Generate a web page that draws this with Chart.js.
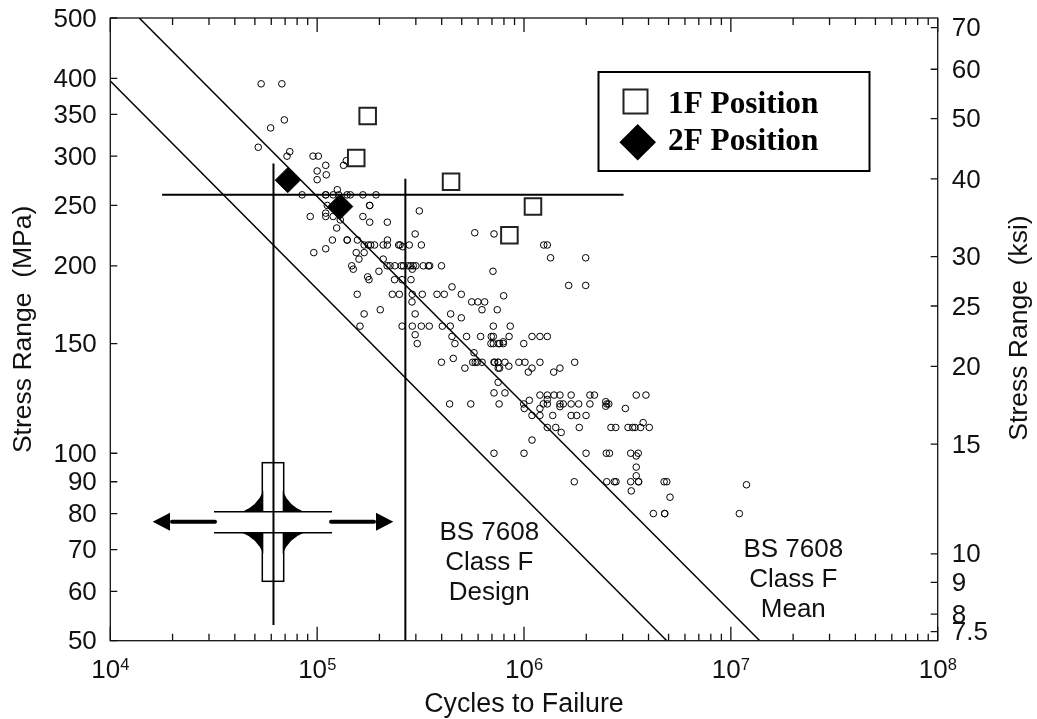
<!DOCTYPE html>
<html>
<head>
<meta charset="utf-8">
<title>Stress Range vs Cycles to Failure</title>
<script src="https://cdn.jsdelivr.net/npm/chart.js@4/dist/chart.umd.min.js"></script>
<style>
  html, body { margin: 0; padding: 0; background: #fff; }
  canvas { display: block; }
</style>
</head>
<body>
<canvas id="chart" width="1037" height="719"></canvas>
<script>
// small circles, one line per stress row (MPa)
const testCycles = [
  5.36e4, 6.75e4, 6.94e4, 5.96e4, 5.19e4, 7.37e4, 7.15e4, 9.55e4, 1.013e5, 1.10e5, 1.00e5, 1.107e5, 1.00e5, 1.384e5, 1.341e5,
  8.46e4, 1.10e5, 1.10e5, 1.195e5, 1.271e5, 1.395e5, 1.447e5, 1.664e5, 1.926e5, 1.252e5,
  1.12e5, 1.795e5, 1.795e5, 1.10e5, 3.118e5,
  9.26e4, 1.10e5, 1.195e5, 1.664e5, 1.294e5, 1.795e5, 2.184e5, 1.243e5, 2.977e5,
  1.185e5, 1.397e5, 1.397e5, 1.566e5, 2.187e5,
  1.687e5, 1.767e5, 1.815e5, 1.894e5, 2.086e5, 2.184e5, 2.479e5, 2.516e5, 2.788e5, 3.189e5, 2.592e5, 1.10e5,
  9.63e4, 1.545e5, 1.687e5, 1.593e5, 2.086e5,
  1.47e5, 2.179e5, 2.25e5, 2.375e5, 2.552e5, 2.612e5, 2.757e5, 2.832e5, 2.914e5, 3.0e5, 3.259e5, 3.451e5, 3.5e5, 3.99e5,
  1.495e5, 2.883e5, 1.989e5, 7.08e5, 1.755e5, 1.781e5, 2.367e5, 2.574e5, 2.842e5, 4.485e5,
  1.562e5, 2.308e5, 2.496e5, 2.883e5, 3.224e5, 3.798e5, 4.117e5, 4.976e5,
  5.78e5, 7.16e5, 1.344e6, 1.987e6, 1.644e6, 1.987e6, 7.975e5,
  2.874e5, 5.589e5, 5.985e5, 6.455e5, 1.246e6, 1.296e6,
  2.019e5, 6.264e5, 7.426e5, 1.687e5, 2.977e5, 4.42e5, 4.976e5,
  1.611e5, 2.574e5, 2.883e5, 3.189e5, 3.483e5, 4.03e5, 4.40e5, 7.107e5, 8.58e5, 2.977e5,
  4.485e5, 5.278e5, 6.17e5, 6.948e5, 7.107e5, 8.47e5, 1.093e6, 1.194e6, 1.296e6,
  3.047e5, 4.635e5, 6.92e5, 7.107e5, 7.504e5, 7.62e5, 9.97e5, 7.943e5, 7.943e5,
  5.733e5, 4.55e5,
  3.99e5, 5.65e5, 5.81e5, 5.94e5, 6.27e5, 7.218e5, 7.504e5, 7.16e5, 7.49e5, 8.09e5, 9.45e5, 1.011e6, 1.194e6, 1.758e6,
  5.18e5, 7.504e5, 7.62e5, 1.093e6, 1.492e6, 8.446e5, 1.049e6, 1.392e6,
  7.50e5, 7.16e5, 8.09e5,
  1.194e6, 1.296e6, 1.397e6, 1.492e6, 1.69e6, 2.083e6, 2.19e6, 3.488e6, 3.886e6,
  1.296e6, 1.061e6, 2.483e6,
  4.37e5, 5.53e5, 7.58e5, 9.97e5, 1.24e6, 1.296e6, 1.492e6, 1.548e6, 1.69e6, 1.838e6, 2.083e6, 2.512e6, 2.57e6,
  2.483e6, 1.492e6, 1.003e6, 1.194e6, 3.09e6,
  1.093e6, 1.194e6, 1.377e6, 1.69e6, 1.798e6, 1.995e6, 3.767e6,
  1.296e6, 1.424e6, 1.85e6, 2.633e6, 2.777e6, 3.183e6, 3.35e6, 3.44e6, 3.663e6, 4.034e6,
  1.513e6, 1.093e6,
  7.16e5, 1.0e6, 1.995e6, 2.50e6, 2.59e6, 3.28e6, 3.568e6, 3.488e6, 3.488e6, 3.488e6,
  1.75e6, 2.512e6, 2.733e6, 2.783e6, 3.28e6, 3.58e6, 3.58e6, 4.757e6, 4.90e6, 3.30e6, 5.08e6, 1.19e7,
  4.22e6, 4.79e6, 4.79e6, 1.099e7
];
const testStress = [
  392, 392, 343, 333, 310, 305, 300, 300, 300, 290, 284, 280, 275, 295, 290,
  260, 260, 260, 260, 260, 260, 260, 260, 260, 265,
  250, 250, 250, 243, 245,
  240, 240, 240, 240, 237, 235, 235, 230, 225,
  220, 220, 220, 220, 220,
  216, 216, 216, 216, 216, 216, 216, 216, 216, 216, 214.6, 213,
  210, 210, 210, 205, 205,
  200, 200, 200, 200, 200, 200, 200, 200, 200, 200, 200, 200, 200, 200,
  197.5, 197.5, 196, 196, 192, 190, 190, 190, 190, 185,
  180, 180, 180, 180, 180, 180, 180, 180,
  226, 225, 206, 206, 186, 186, 179,
  175, 175, 175, 175, 216, 216,
  170, 170, 170, 167.4, 167.4, 167.4, 165,
  160, 160, 160, 160, 160, 160, 160, 160, 160, 155,
  154, 154, 154, 154, 154, 154, 154, 154, 154,
  150, 150, 150, 150, 150, 150, 150, 151, 150,
  145, 142,
  140, 140, 140, 140, 140, 140, 140, 140, 140, 140, 140, 140, 140, 140,
  137, 137, 137, 137, 137, 138, 135, 135,
  130, 125, 125,
  124, 124, 124, 124, 124, 124, 124, 124, 124,
  122, 121.6, 121,
  120, 120, 120, 120, 120, 120, 120, 120, 120, 120, 120, 120, 120,
  119, 118.8, 118, 118, 118,
  115, 115, 115, 115, 115, 115, 112,
  110, 110, 110, 110, 110, 110, 110, 110, 110, 110,
  108, 105,
  100, 100, 100, 100, 100, 100, 100, 99, 95, 92,
  90, 90, 90, 90, 90, 90, 90, 90, 90, 87, 85, 89,
  80, 80, 80, 80
];

const pos1FCycles = [1.755e5, 1.545e5, 4.44e5, 1.105e6, 8.5e5];
const pos1FStress = [348, 298, 273, 249, 224];
const pos2FCycles = [7.21e4, 1.294e5];
const pos2FStress = [274.5, 249];

const meanCycles = [1.38e4, 1.38e7];
const meanStress = [500, 50];
const designCycles = [1e4, 4.9e6];
const designStress = [396, 50];
const horizCycles = [1.78e4, 3.03e6];
const horizStress = [260, 260];
const vert1Cycles = [6.15e4, 6.15e4];
const vert1Stress = [292, 53];
const vert2Cycles = [2.67e5, 2.67e5];
const vert2Stress = [276, 50];

const mpaTicks = [500, 400, 350, 300, 250, 200, 150, 100, 90, 80, 70, 60, 50];
const ksiTicks = [70, 60, 50, 40, 30, 25, 20, 15, 10, 9, 8, 7.5];
const cycleTicks = [1e4, 1e5, 1e6, 1e7, 1e8];
const cycleExponents = ['4', '5', '6', '7', '8'];
const minorMultipliers = [2, 3, 4, 5, 6, 7, 8, 9];
const mpaPerKsi = 6.895;

function points(xs, ys) {
  return xs.map((x, i) => ({ x: x, y: ys[i] }));
}

function lineSet(label, xs, ys, width) {
  return {
    label: label,
    data: points(xs, ys),
    showLine: true,
    borderColor: '#000',
    borderWidth: width,
    pointRadius: 0
  };
}

function setTicks(list) {
  return function (scale) {
    scale.ticks = list.map(v => ({ value: v }));
  };
}

const axisFont = { family: '"Liberation Sans"', size: 26 };
const ink = '#111';

// welded joint sketch, sits under the data lines
const jointSketch = {
  id: 'jointSketch',
  beforeDatasetsDraw(chart) {
    const c = chart.ctx;
    c.save();
    c.fillStyle = '#000';
    c.strokeStyle = '#000';
    c.lineWidth = 1.5;
    c.strokeRect(262.3, 462.7, 21.4, 118.6);
    c.fillStyle = '#fff';
    c.fillRect(214, 512, 118, 20.4);
    c.fillStyle = '#000';
    c.beginPath();
    c.moveTo(214, 511.7); c.lineTo(332, 511.7);
    c.moveTo(214, 532.7); c.lineTo(332, 532.7);
    c.stroke();
    // fillets, curve pulled a bit off the plate corner so they read as solid
    const r = 21;
    [[263.3, 511.7, -1, -1], [282.7, 511.7, 1, -1], [263.3, 532.7, -1, 1], [282.7, 532.7, 1, 1]].forEach(f => {
      c.beginPath();
      c.moveTo(f[0] + f[2] * r, f[1]);
      c.quadraticCurveTo(f[0] + f[2] * 6, f[1] + f[3] * 6, f[0], f[1] + f[3] * r);
      c.lineTo(f[0], f[1]);
      c.closePath();
      c.fill();
    });
    // load arrows
    c.lineWidth = 4;
    c.lineCap = 'round';
    c.beginPath();
    c.moveTo(215, 521.7); c.lineTo(172, 521.7);
    c.moveTo(331, 521.7); c.lineTo(374, 521.7);
    c.stroke();
    c.beginPath();
    c.moveTo(152.7, 521.7); c.lineTo(170, 512.7); c.lineTo(170, 530.7); c.closePath();
    c.moveTo(393.3, 521.7); c.lineTo(376, 512.7); c.lineTo(376, 530.7); c.closePath();
    c.fill();
    c.restore();
  }
};

// frame, inward ticks, curve labels and legend box
const frameAndNotes = {
  id: 'frameAndNotes',
  afterDatasetsDraw(chart) {
    const c = chart.ctx;
    const a = chart.chartArea;
    const xs = chart.scales.x, yl = chart.scales.y, yr = chart.scales.y2;
    c.save();
    c.strokeStyle = ink;
    c.lineWidth = 1.3;
    c.strokeRect(a.left, a.top, a.right - a.left, a.bottom - a.top);
    c.beginPath();
    cycleTicks.forEach(d => {
      const px = xs.getPixelForValue(d);
      c.moveTo(px, a.bottom); c.lineTo(px, a.bottom - 14);
      c.moveTo(px, a.top); c.lineTo(px, a.top + 14);
      if (d < 1e8) {
        minorMultipliers.forEach(m => {
          const mx = xs.getPixelForValue(d * m);
          c.moveTo(mx, a.bottom); c.lineTo(mx, a.bottom - 7);
          c.moveTo(mx, a.top); c.lineTo(mx, a.top + 7);
        });
      }
    });
    mpaTicks.forEach(v => {
      const py = yl.getPixelForValue(v);
      c.moveTo(a.left, py); c.lineTo(a.left + 7, py);
    });
    ksiTicks.forEach(v => {
      const py = yr.getPixelForValue(v);
      c.moveTo(a.right, py); c.lineTo(a.right - 7, py);
    });
    c.stroke();

    c.fillStyle = ink;
    c.textBaseline = 'alphabetic';

    // decade labels with raised exponents
    c.textAlign = 'left';
    cycleTicks.forEach((d, i) => {
      const px = xs.getPixelForValue(d);
      c.font = '26px "Liberation Sans"';
      c.fillText('10', px - 19, 678);
      c.font = '16.5px "Liberation Sans"';
      c.fillText(cycleExponents[i], px + 10, 670);
    });

    c.font = '26px "Liberation Sans"';
    c.textAlign = 'center';
    c.fillText('BS 7608', 489.3, 540);
    c.fillText('Class F', 489.3, 570);
    c.fillText('Design', 489.3, 600);
    c.fillText('BS 7608', 793.3, 556.7);
    c.fillText('Class F', 793.3, 586.5);
    c.fillText('Mean', 793.3, 616.7);

    // right axis title reads bottom to top in the original
    c.save();
    c.translate(1020, 328);
    c.rotate(-Math.PI / 2);
    c.textBaseline = 'middle';
    c.font = '26.5px "Liberation Sans"';
    c.fillText('Stress Range  (ksi)', 0, 0);
    c.restore();

    // legend
    c.fillStyle = '#fff';
    c.fillRect(598.5, 72, 271, 99);
    c.strokeStyle = '#000';
    c.lineWidth = 2;
    c.strokeRect(598.5, 72, 271, 99);
    c.strokeStyle = '#222';
    c.strokeRect(623.5, 89.5, 24, 24);
    c.fillStyle = '#000';
    c.beginPath();
    c.moveTo(637.7, 124); c.lineTo(656, 142.3); c.lineTo(637.7, 160.6); c.lineTo(619.4, 142.3);
    c.closePath();
    c.fill();
    c.font = 'bold 31.3px "Liberation Serif"';
    c.textAlign = 'left';
    c.fillText('1F Position', 668, 112.7);
    c.fillText('2F Position', 668, 150);
    c.restore();
  }
};

new Chart(document.getElementById('chart'), {
  type: 'scatter',
  data: {
    datasets: [
      {
        label: '1F Position',
        data: points(pos1FCycles, pos1FStress),
        pointStyle: 'rect',
        pointRadius: 11.7,
        pointBorderWidth: 2,
        pointBorderColor: '#222',
        pointBackgroundColor: '#fff'
      },
      {
        label: '2F Position',
        data: points(pos2FCycles, pos2FStress),
        pointStyle: 'rectRot',
        pointRadius: 12.5,
        pointBorderWidth: 1,
        pointBorderColor: '#000',
        pointBackgroundColor: '#000'
      },
      lineSet('Vertical 1', vert1Cycles, vert1Stress, 2),
      lineSet('Vertical 2', vert2Cycles, vert2Stress, 2),
      lineSet('Horizontal', horizCycles, horizStress, 2),
      lineSet('BS 7608 Class F Mean', meanCycles, meanStress, 1.5),
      lineSet('BS 7608 Class F Design', designCycles, designStress, 1.5),
      {
        label: 'Test data',
        data: points(testCycles, testStress),
        pointStyle: 'circle',
        pointRadius: 3.3,
        pointBorderWidth: 1,
        pointBorderColor: '#000',
        pointBackgroundColor: 'rgba(0,0,0,0)'
      }
    ]
  },
  options: {
    responsive: false,
    animation: false,
    layout: { padding: { top: 18, left: 0, right: 0, bottom: 0 } },
    plugins: { legend: { display: false }, tooltip: { enabled: false } },
    scales: {
      x: {
        type: 'logarithmic',
        min: 1e4,
        max: 1e8,
        afterBuildTicks: setTicks(cycleTicks),
        afterFit(s) { s.height = 78.3; s.paddingLeft = 0; s.paddingRight = 0; },
        grid: { display: false, drawTicks: false },
        border: { display: false },
        ticks: { display: false },
        title: {
          display: true,
          text: 'Cycles to Failure',
          color: ink,
          font: { family: '"Liberation Sans"', size: 26.8 },
          padding: { top: 0, bottom: -2 }
        }
      },
      y: {
        type: 'logarithmic',
        position: 'left',
        min: 50,
        max: 500,
        afterBuildTicks: setTicks(mpaTicks),
        afterFit(s) { s.width = 110.3; s.paddingTop = 0; s.paddingBottom = 0; },
        grid: { display: false, drawTicks: false },
        border: { display: false },
        ticks: {
          autoSkip: false,
          padding: 13.5,
          labelOffset: 1.5,
          color: ink,
          font: axisFont,
          callback: v => String(v)
        },
        title: {
          display: true,
          text: 'Stress Range  (MPa)',
          color: ink,
          font: { family: '"Liberation Sans"', size: 26.5 },
          padding: { top: 8, bottom: 0 }
        }
      },
      y2: {
        type: 'logarithmic',
        position: 'right',
        min: 50 / mpaPerKsi,
        max: 500 / mpaPerKsi,
        afterBuildTicks: setTicks(ksiTicks),
        afterFit(s) { s.width = 99.3; s.paddingTop = 0; s.paddingBottom = 0; },
        grid: { display: false, drawTicks: false },
        border: { display: false },
        ticks: {
          autoSkip: false,
          padding: 14,
          labelOffset: 1.5,
          color: ink,
          font: axisFont,
          callback: v => String(v)
        }
      }
    }
  },
  plugins: [jointSketch, frameAndNotes]
});
</script>
</body>
</html>
